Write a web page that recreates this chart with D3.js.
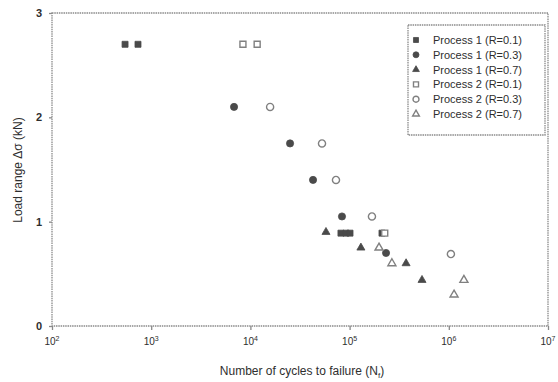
<!DOCTYPE html>
<html>
<head>
<meta charset="utf-8">
<style>
  body { margin: 0; background: #fff; }
  text { font-family: "Liberation Sans", Arial, sans-serif; fill: #2e2e2e; }
  .frame { fill: none; stroke: #8a8a8a; stroke-width: 1.3; stroke-dasharray: 1.5 0.8; }
  .axis path, .axis line { stroke: #8a8a8a; stroke-width: 1.3; }
</style>
<title>Load range vs cycles to failure</title>
</head>
<body>
<script src="https://cdn.jsdelivr.net/npm/d3@7"></script>
<script>

// cycles to failure, load range (kN)
var p1_r01 = [[545, 2.7], [736, 2.7], [81800, 0.89], [92000, 0.89], [101000, 0.89], [212000, 0.89]];
var p1_r03 = [[6840, 2.1], [25100, 1.75], [42800, 1.4], [83800, 1.05], [233000, 0.7]];
var p1_r07 = [[57800, 0.9], [130000, 0.75], [371000, 0.6], [537000, 0.44]];
var p2_r01 = [[8410, 2.7], [11700, 2.7], [226000, 0.89]];
var p2_r03 = [[15800, 2.1], [52700, 1.75], [72900, 1.4], [168000, 1.05], [1050000, 0.69]];
var p2_r07 = [[198000, 0.75], [267000, 0.6], [1420000, 0.44], [1130000, 0.3]];

var seriesNames = ["Process 1 (R=0.1)", "Process 1 (R=0.3)", "Process 1 (R=0.7)",
                   "Process 2 (R=0.1)", "Process 2 (R=0.3)", "Process 2 (R=0.7)"];
var xTickExps = [2, 3, 4, 5, 6, 7];
var yTicks = [0, 1, 2, 3];

var series = [
  {name: seriesNames[0], data: p1_r01, shape: d3.symbolSquare, filled: true},
  {name: seriesNames[1], data: p1_r03, shape: d3.symbolCircle, filled: true},
  {name: seriesNames[2], data: p1_r07, shape: d3.symbolTriangle, filled: true},
  {name: seriesNames[3], data: p2_r01, shape: d3.symbolSquare, filled: false},
  {name: seriesNames[4], data: p2_r03, shape: d3.symbolCircle, filled: false},
  {name: seriesNames[5], data: p2_r07, shape: d3.symbolTriangle, filled: false}
];

var margin = {top: 13, right: 10, bottom: 56, left: 52},
    width = 558 - margin.left - margin.right,
    height = 382 - margin.top - margin.bottom;

var svg = d3.select("body").append("svg")
    .attr("width", 558)
    .attr("height", 382);

var g = svg.append("g")
    .attr("transform", `translate(${margin.left},${margin.top})`);

var x = d3.scaleLog().domain([1e2, 1e7]).range([0, width]);
var y = d3.scaleLinear().domain([0, 3]).range([height, 0]);

// plot frame
g.append("rect")
    .attr("class", "frame")
    .attr("width", width)
    .attr("height", height);

var xAxis = g.append("g")
    .attr("class", "axis")
    .attr("transform", `translate(0,${height})`)
    .call(d3.axisBottom(x).tickValues(xTickExps.map(e => Math.pow(10, e)))
        .tickSize(4).tickSizeOuter(0).tickFormat(""));
xAxis.select(".domain").remove();

var yAxis = g.append("g")
    .attr("class", "axis")
    .call(d3.axisLeft(y).tickValues(yTicks).tickSize(3).tickSizeOuter(0).tickFormat(""));
yAxis.select(".domain").remove();

// x tick labels with superscripts
var xl = g.selectAll(".xlab")
  .data(xTickExps)
  .enter().append("text")
    .attr("class", "xlab")
    .attr("x", d => x(Math.pow(10, d)))
    .attr("y", height + 19)
    .attr("text-anchor", "middle")
    .style("font-size", "10px");
xl.append("tspan").text("10");
xl.append("tspan").attr("dy", -4).style("font-size", "7px").text(d => d);

g.selectAll(".ylab")
  .data(yTicks)
  .enter().append("text")
    .attr("x", -10)
    .attr("y", d => y(d) + 4)
    .attr("text-anchor", "end")
    .style("font-size", "11px")
    .style("font-weight", "bold")
    .text(d => d);

// axis titles
var xt = svg.append("text")
    .attr("x", 302)
    .attr("y", 375)
    .attr("text-anchor", "middle")
    .style("font-size", "12px");
xt.append("tspan").text("Number of cycles to failure (N");
xt.append("tspan").attr("dy", 3).style("font-size", "8px").text("f");
xt.append("tspan").attr("dy", -3).text(")");

svg.append("text")
    .attr("transform", "translate(22,170) rotate(-90)")
    .attr("text-anchor", "middle")
    .style("font-size", "12px")
    .text("Load range \u0394\u03c3 (kN)");

function sym(s, scale) {
  var size = s.shape === d3.symbolTriangle ? 28 : (s.shape === d3.symbolSquare ? 36 : 40);
  return d3.symbol().type(s.shape).size(size * scale)();
}

function styleMark(sel, s) {
  sel.attr("fill", s.filled ? "#4a4a4a" : "#fff")
     .attr("stroke", s.filled ? "#4a4a4a" : "#808080")
     .attr("stroke-width", s.filled ? 0.8 : 1.4);
}

// points
series.forEach(function(s) {
  g.selectAll(null)
    .data(s.data)
    .enter().append("path")
      .attr("d", sym(s, 1))
      .attr("transform", d => `translate(${x(d[0])},${y(d[1])})`)
      .call(styleMark, s);
});

// legend
var lg = svg.append("g").attr("transform", "translate(408,25)");
lg.append("rect")
    .attr("class", "frame")
    .attr("width", 137)
    .attr("height", 110);

var item = lg.selectAll(".item")
  .data(series)
  .enter().append("g")
    .attr("transform", (d, i) => `translate(8,${15 + i * 14.8})`);
item.each(function(s) {
  d3.select(this).append("path")
    .attr("d", sym(s, 0.7))
    .call(styleMark, s);
});
item.append("text")
    .attr("x", 17)
    .attr("y", 4)
    .style("font-size", "11px")
    .text(d => d.name);

</script>
</body>
</html>
